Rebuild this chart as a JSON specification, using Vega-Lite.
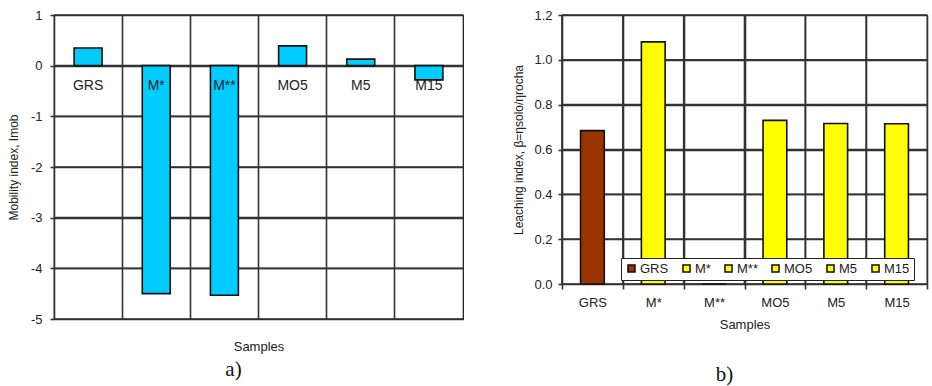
{
  "$schema": "https://vega.github.io/schema/vega-lite/v6.json",
  "autosize": {"type": "pad"},
  "padding": {"left": 6, "top": 8, "right": 0, "bottom": 0},
  "background": "white",
  "bounds": "flush",
  "spacing": 99,
  "config": {
    "font": "Liberation Sans",
    "view": {"stroke": "#111", "strokeWidth": 1.2},
    "axis": {
      "labelFontSize": 13,
      "labelColor": "#222",
      "titleFontSize": 13,
      "titleFontWeight": "normal",
      "titleColor": "#222",
      "gridColor": "#333",
      "gridOpacity": 1,
      "gridWidth": 1.6,
      "tickColor": "#333",
      "tickWidth": 1.6,
      "domainColor": "#333"
    }
  },
  "hconcat": [
    {
      "width": 409,
      "height": 304,
      "title": {"text": "a)", "orient": "bottom", "font": "Liberation Serif", "fontSize": 21, "fontWeight": "normal", "color": "#111", "dx": -25, "offset": 6},
      "layer": [
        {
          "data": {"values": [{"Imob": -5}, {"Imob": -4}, {"Imob": -3}, {"Imob": -2}, {"Imob": -1}, {"Imob": 0}, {"Imob": 1}]},
          "mark": {"type": "rule", "color": "#333", "strokeWidth": 1.6},
          "encoding": {
            "y": {"field": "Imob", "type": "quantitative",
                  "scale": {"domain": [-5, 1], "nice": false},
                  "axis": {"title": "Mobility index, Imob", "values": [-5, -4, -3, -2, -1, 0, 1], "labelExpr": "'' + datum.value", "tickSize": 4, "labelPadding": 8, "domain": false, "titleFontSize": 12, "titlePadding": 10}}
          }
        },
        {
          "data": {"values": [
            {"Sample": "GRS", "Imob": 0.35},
            {"Sample": "M*", "Imob": -4.5},
            {"Sample": "M**", "Imob": -4.53},
            {"Sample": "MO5", "Imob": 0.39},
            {"Sample": "M5", "Imob": 0.13},
            {"Sample": "M15", "Imob": -0.28}
          ]},
          "layer": [
            {
              "mark": {"type": "bar", "fill": "#00ccff", "stroke": "#111", "strokeWidth": 1.6, "width": {"band": 0.41}},
              "encoding": {
                "x": {"field": "Sample", "type": "nominal", "sort": null,
                      "scale": {"paddingInner": 0, "paddingOuter": 0},
                      "axis": {"title": "Samples", "labels": false, "ticks": false, "domain": false, "grid": true, "bandPosition": 0, "titlePadding": 21}},
                "y": {"field": "Imob", "type": "quantitative",
                      "scale": {"domain": [-5, 1], "nice": false},
                      "axis": {"title": "Mobility index, Imob", "values": [-5, -4, -3, -2, -1, 0, 1], "labelExpr": "'' + datum.value", "tickSize": 4, "labelPadding": 8, "domain": false, "titleFontSize": 12, "titlePadding": 10}}
              }
            },
            {
              "mark": {"type": "text", "fontSize": 14, "color": "#222", "baseline": "middle"},
              "encoding": {
                "x": {"field": "Sample", "type": "nominal", "sort": null,
                      "axis": {"title": "Samples", "labels": false, "ticks": false, "domain": false, "grid": true, "bandPosition": 0, "titlePadding": 21}},
                "y": {"datum": -0.4},
                "text": {"field": "Sample"}
              }
            }
          ]
        }
      ]
    },
    {
      "width": 365,
      "height": 269,
      "title": {"text": "b)", "orient": "bottom", "font": "Liberation Serif", "fontSize": 21, "fontWeight": "normal", "color": "#111", "dx": -20, "offset": 33},
      "layer": [
        {
          "data": {"values": [{"beta": 0}, {"beta": 0.2}, {"beta": 0.4}, {"beta": 0.6}, {"beta": 0.8}, {"beta": 1.0}, {"beta": 1.2}]},
          "mark": {"type": "rule", "color": "#333", "strokeWidth": 1.6},
          "encoding": {
            "y": {"field": "beta", "type": "quantitative",
                  "scale": {"domain": [0, 1.2], "nice": false},
                  "axis": {"title": "Leaching index, β=ηsolo/ηrocha", "values": [0, 0.2, 0.4, 0.6, 0.8, 1.0, 1.2], "format": ".1f", "tickSize": 4, "labelPadding": 6, "domain": false, "titleFontSize": 12, "titlePadding": 8}}
          }
        },
        {
          "data": {"values": [
            {"Sample": "GRS", "beta": 0.684},
            {"Sample": "M*", "beta": 1.08},
            {"Sample": "M**", "beta": 0},
            {"Sample": "MO5", "beta": 0.73},
            {"Sample": "M5", "beta": 0.716},
            {"Sample": "M15", "beta": 0.715}
          ]},
          "layer": [
            {
              "mark": {"type": "rule", "color": "#333", "strokeWidth": 1.6},
              "encoding": {
                "x": {"field": "Sample", "type": "nominal", "sort": null, "bandPosition": 0,
                      "scale": {"paddingInner": 0, "paddingOuter": 0},
                      "axis": {"title": "Samples", "labelAngle": 0, "grid": true, "tickBand": "extent", "tickSize": 5, "labelPadding": 7, "titlePadding": 9, "domain": false}}
              }
            },
            {
              "mark": {"type": "bar", "stroke": "#111", "strokeWidth": 1.6, "width": {"band": 0.39}},
              "encoding": {
                "x": {"field": "Sample", "type": "nominal", "sort": null,
                      "scale": {"paddingInner": 0, "paddingOuter": 0},
                      "axis": {"title": "Samples", "labelAngle": 0, "grid": true, "tickBand": "extent", "tickSize": 5, "labelPadding": 7, "titlePadding": 9, "domain": false}},
                "y": {"field": "beta", "type": "quantitative",
                      "scale": {"domain": [0, 1.2], "nice": false},
                      "axis": {"title": "Leaching index, β=ηsolo/ηrocha", "values": [0, 0.2, 0.4, 0.6, 0.8, 1.0, 1.2], "format": ".1f", "tickSize": 4, "labelPadding": 6, "domain": false, "titleFontSize": 12, "titlePadding": 8}},
                "fill": {"field": "Sample", "type": "nominal", "sort": null,
                         "scale": {"domain": ["GRS", "M*", "M**", "MO5", "M5", "M15"], "range": ["#993300", "#ffff00", "#ffff00", "#ffff00", "#ffff00", "#ffff00"]},
                         "legend": {"title": null, "orient": "none", "legendX": 567, "legendY": 243, "direction": "horizontal", "gridAlign": "none", "fillColor": "white", "strokeColor": "#222", "padding": 4, "symbolType": "square", "symbolSize": 50, "symbolStrokeColor": "#111", "symbolStrokeWidth": 1.5, "labelFontSize": 13, "labelColor": "#222", "labelOffset": 2, "columnPadding": 10}}
              }
            }
          ]
        }
      ]
    }
  ]
}
